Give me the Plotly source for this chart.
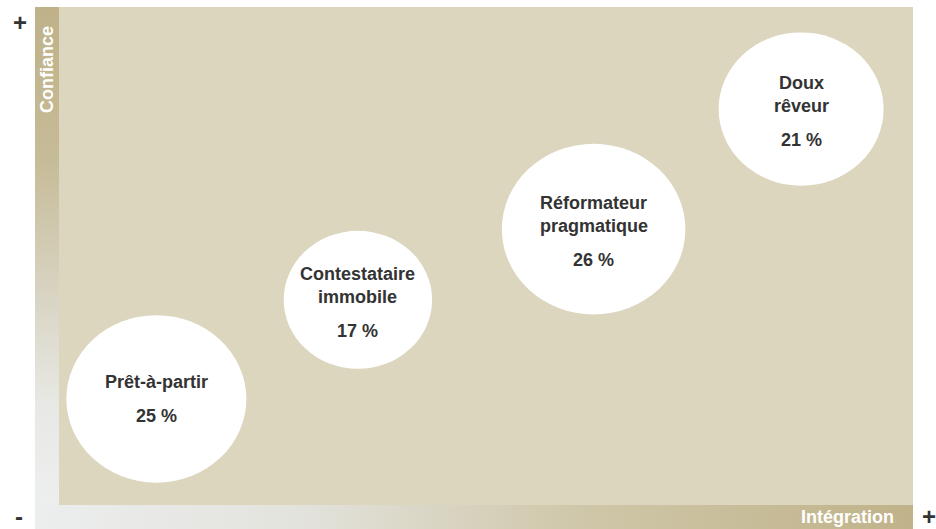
import math
import plotly.graph_objects as go

# ---------------- data ----------------
segments = ["Prêt-à-partir", "Contestataire<br>immobile", "Réformateur<br>pragmatique", "Doux<br>rêveur"]
shares = [25, 17, 26, 21]                 # % of population
integration = [11.4, 35.0, 62.6, 86.9]    # x position on 0-100 scale
confidence = [21.3, 41.2, 55.4, 79.5]     # y position on 0-100 scale
x_label = "Intégration"
y_label = "Confiance"

# ---------------- layout constants ----------------
W, H = 936, 529
ML, MR, MT, MB = 35, 23, 7, 0
BAR = 24
plot_w = W - ML - MR
plot_h = H - MT - MB
px_x = (plot_w - BAR) / 100.0
px_y = (plot_h - BAR) / 100.0
x_lo = -BAR / px_x
y_lo = -BAR / px_y

BEIGE = "#DCD6BF"
DARK = "#333333"
FONT = "Liberation Sans, Arial, sans-serif"

fig = go.Figure()

# gradient axis bars
fig.add_trace(go.Scatter(
    x=[x_lo, 0, 0, x_lo, x_lo], y=[0, 0, 100, 100, 0],
    mode="lines", fill="toself", line=dict(width=0),
    fillgradient=dict(type="vertical", start=0, stop=100,
                      colorscale=[[0, "#EDEFEF"], [0.2, "#E8E9E5"], [0.4, "#DAD6C6"],
                                  [0.7, "#C6BB97"], [1, "#BFB289"]]),
    hoverinfo="skip", showlegend=False))
fig.add_trace(go.Scatter(
    x=[x_lo, 100, 100, x_lo, x_lo], y=[y_lo, y_lo, 0, 0, y_lo],
    mode="lines", fill="toself", line=dict(width=0),
    fillgradient=dict(type="horizontal", start=x_lo, stop=100,
                      colorscale=[[0, "#ECEEEE"], [0.3, "#E3E3DD"], [0.62, "#CFC7A9"],
                                  [1, "#C0B38A"]]),
    hoverinfo="skip", showlegend=False))

shapes = [dict(type="rect", xref="x", yref="y", x0=0, x1=100, y0=0, y1=100,
               fillcolor=BEIGE, line=dict(width=0), layer="below")]

annotations = []
for name, share, cx, cy in zip(segments, shares, integration, confidence):
    rx_px = 18 * math.sqrt(share)
    ry_px = 0.93 * rx_px
    rx = rx_px / px_x
    ry = ry_px / px_y
    shapes.append(dict(type="circle", xref="x", yref="y",
                       x0=cx - rx, x1=cx + rx, y0=cy - ry, y1=cy + ry,
                       fillcolor="white", line=dict(width=0), layer="below"))
    lines = name.split("<br>")
    n = len(lines)
    first = -17 - 9 * (n - 1)   # px offset below centre (screen down positive)
    for i, ln in enumerate(lines):
        annotations.append(dict(x=cx, y=cy, xref="x", yref="y", text="<b>%s</b>" % ln,
                                showarrow=False, yshift=-(first + 23 * i),
                                font=dict(family=FONT, size=18, color=DARK),
                                xanchor="center", yanchor="middle"))
    annotations.append(dict(x=cx, y=cy, xref="x", yref="y", text="<b>%d %%</b>" % share,
                            showarrow=False, yshift=-(first + 23 * (n - 1) + 34),
                            font=dict(family=FONT, size=18, color=DARK),
                            xanchor="center", yanchor="middle"))

def px2paper(px, py):
    return (px - ML) / plot_w, (H - MB - py) / plot_h

for txt, (px, py), ang, col, size in [
    ("+", (20, 22), 0, DARK, 24),
    ("-", (19, 516), 0, DARK, 24),
    ("+", (929, 516), 0, DARK, 24),
    (y_label, (47, 70), -90, "white", 18),
    (x_label, (847, 517), 0, "white", 18),
]:
    xp, yp = px2paper(px, py)
    annotations.append(dict(x=xp, y=yp, xref="paper", yref="paper", text="<b>%s</b>" % txt,
                            showarrow=False, textangle=ang,
                            font=dict(family=FONT, size=size, color=col),
                            xanchor="center", yanchor="middle"))

fig.update_layout(
    width=W, height=H,
    margin=dict(l=ML, r=MR, t=MT, b=MB, pad=0),
    paper_bgcolor="white", plot_bgcolor="white",
    shapes=shapes, annotations=annotations,
    xaxis=dict(range=[x_lo, 100], visible=False, fixedrange=True),
    yaxis=dict(range=[y_lo, 100], visible=False, fixedrange=True),
    showlegend=False, hovermode=False,
)

fig.write_html("out.html", config={"displayModeBar": False})
